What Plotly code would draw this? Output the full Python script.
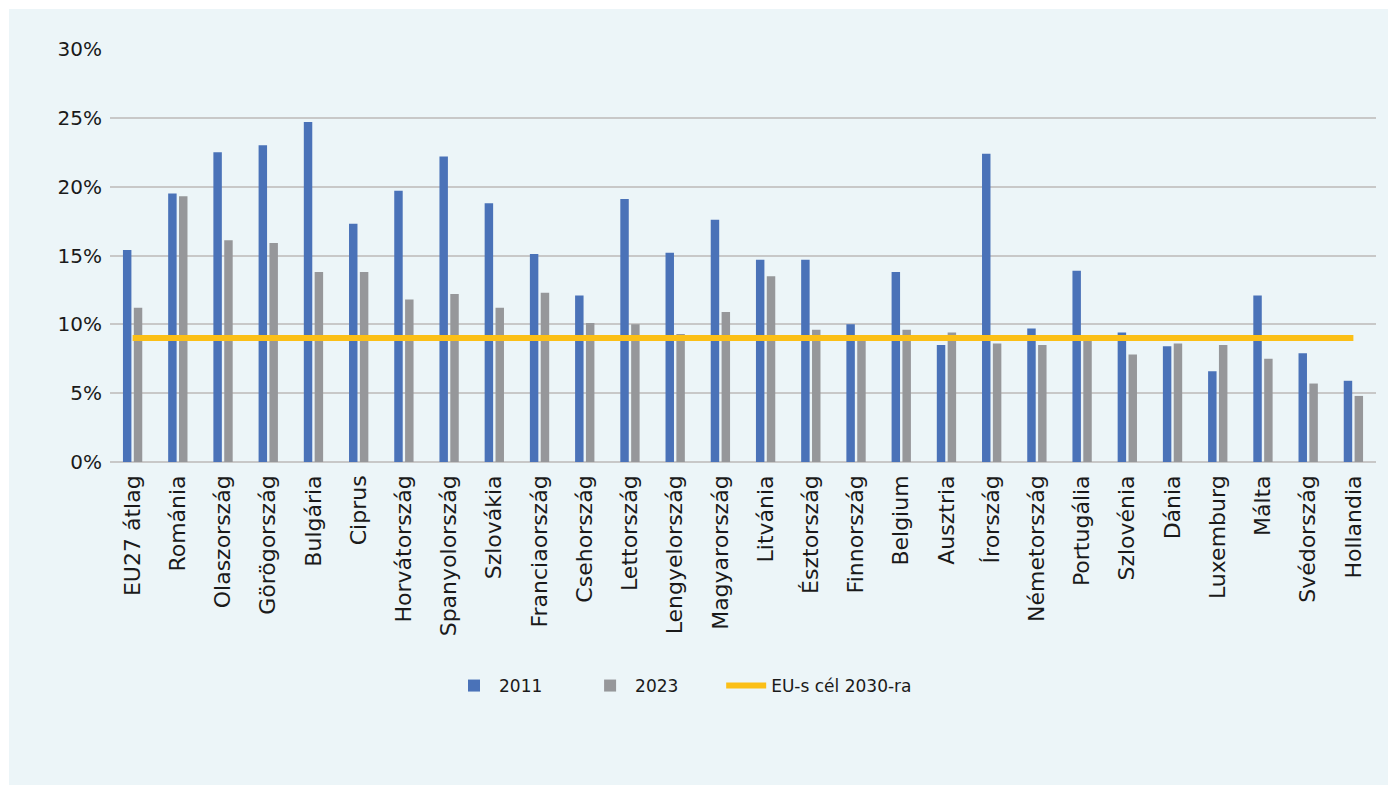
import plotly.graph_objects as go

countries = ["EU27 átlag", "Románia", "Olaszország", "Görögország", "Bulgária", "Ciprus",
             "Horvátország", "Spanyolország", "Szlovákia", "Franciaország", "Csehország",
             "Lettország", "Lengyelország", "Magyarország", "Litvánia", "Észtország",
             "Finnország", "Belgium", "Ausztria", "Írország", "Németország", "Portugália",
             "Szlovénia", "Dánia", "Luxemburg", "Málta", "Svédország", "Hollandia"]

v2011 = [15.4, 19.5, 22.5, 23.0, 24.7, 17.3, 19.7, 22.2, 18.8, 15.1, 12.1, 19.1, 15.2, 17.6,
         14.7, 14.7, 10.0, 13.8, 8.5, 22.4, 9.7, 13.9, 9.4, 8.4, 6.6, 12.1, 7.9, 5.9]
v2023 = [11.2, 19.3, 16.1, 15.9, 13.8, 13.8, 11.8, 12.2, 11.2, 12.3, 10.1, 10.0, 9.3, 10.9,
         13.5, 9.6, 9.2, 9.6, 9.4, 8.6, 8.5, 8.9, 7.8, 8.6, 8.5, 7.5, 5.7, 4.8]
target = [9.0] * len(countries)

series_names = ["2011", "2023", "EU-s cél 2030-ra"]

y_ticks = [0, 5, 10, 15, 20, 25, 30]
y_ticklabels = [f"{t}%" for t in y_ticks]

BLUE = "#4a72b8"
GREY = "#96979a"
YELLOW = "#fbbf17"
BG = "#ecf5f8"
FONT = "DejaVu Sans, Verdana, sans-serif"

W, H = 1388, 785
ML, MR, MT, MB = 110, 12, 49, 323

PAD = "\u00a0" * 7

fig = go.Figure()
fig.add_trace(go.Bar(name=series_names[0] + PAD, x=countries, y=v2011,
                     marker=dict(color=BLUE, line=dict(width=0))))
fig.add_trace(go.Bar(name=series_names[1] + PAD, x=countries, y=v2023,
                     marker=dict(color=GREY, line=dict(width=0))))
fig.add_trace(go.Scatter(name=series_names[2], x=countries, y=target, mode="lines",
                         line=dict(color=YELLOW, width=6)))

pw = W - ML - MR
ph = H - MT - MB
def px_to_paper_x(p):
    return (p - ML) / pw
def py_to_paper_y(p):
    return (H - MB - p) / ph

fig.update_layout(
    width=W, height=H,
    margin=dict(l=ML, r=MR, t=MT, b=MB, autoexpand=False),
    paper_bgcolor=BG,
    plot_bgcolor=BG,
    barmode="group",
    bargap=0.52,
    bargroupgap=0.22,
    font=dict(family=FONT, size=20, color="#1a1a1a"),
    showlegend=True,
    legend=dict(orientation="h", x=px_to_paper_x(449), xanchor="left",
                y=py_to_paper_y(686), yanchor="middle",
                font=dict(size=17), bgcolor="rgba(0,0,0,0)", traceorder="normal",
                itemwidth=40),
    xaxis=dict(type="category", tickangle=-90, showgrid=False, showline=False,
               ticks="", ticklabelstandoff=8, tickfont=dict(size=22)),
    yaxis=dict(range=[0, 30], tickvals=y_ticks, ticktext=y_ticklabels,
               showgrid=True, gridcolor="#c8c8c8", gridwidth=2,
               zeroline=True, zerolinecolor="#c8c8c8", zerolinewidth=2,
               showline=False, ticks="", ticklabelstandoff=7, tickfont=dict(size=20)),
    shapes=[
        dict(type="rect", xref="paper", yref="paper",
             x0=px_to_paper_x(-5), x1=px_to_paper_x(9),
             y0=py_to_paper_y(H + 5), y1=py_to_paper_y(-5),
             fillcolor="white", line=dict(width=0), layer="below"),
        dict(type="rect", xref="paper", yref="paper",
             x0=px_to_paper_x(-5), x1=px_to_paper_x(W + 5),
             y0=py_to_paper_y(9), y1=py_to_paper_y(-5),
             fillcolor="white", line=dict(width=0), layer="below"),
    ],
)

fig.write_html("out.html", config={"displayModeBar": False},
               post_script="document.body.style.margin='0';document.body.style.overflow='hidden';")
